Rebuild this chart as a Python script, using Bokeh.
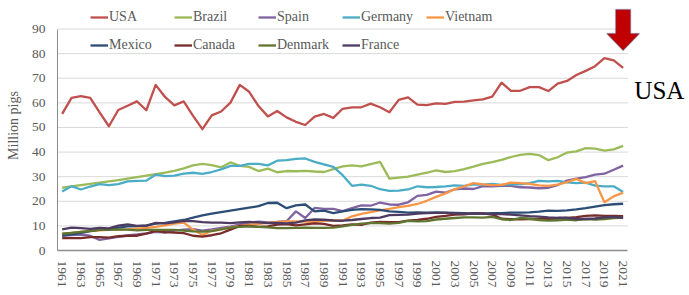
from bokeh.plotting import figure
from bokeh.models import Range1d, Legend, LegendItem, Label, PolyAnnotation, FixedTicker
from bokeh.embed import file_html
from bokeh.resources import INLINE

years = list(range(1961, 2022))

usa = [55.5, 62.0, 62.7, 62.0, 56.1, 50.5, 57.1, 58.8, 60.6, 57.0,
       67.3, 62.4, 59.0, 60.6, 54.7, 49.3, 54.9, 56.5, 60.1, 67.3,
       64.5, 58.7, 54.5, 56.7, 54.1, 52.3, 51.0, 54.4, 55.5, 53.9,
       57.6, 58.2, 58.2, 59.7, 58.2, 56.2, 61.2, 62.2, 59.3, 59.1,
       59.8, 59.6, 60.4, 60.5, 61.0, 61.4, 62.5, 68.2, 64.9, 64.9,
       66.4, 66.4, 64.8, 67.8, 68.9, 71.3, 73.0, 74.9, 78.2, 77.3, 74.2]
brazil = [25.5, 26.1, 26.6, 27.1, 27.6, 28.1, 28.6, 29.2, 29.8, 30.4,
          31.0, 31.6, 32.4, 33.4, 34.6, 35.2, 34.7, 33.8, 35.8, 34.4,
          34.0, 32.3, 33.3, 31.8, 32.3, 32.2, 32.4, 32.1, 31.9, 33.1,
          34.2, 34.6, 34.2, 35.1, 36.0, 29.2, 29.6, 30.0, 30.8, 31.6,
          32.6, 31.9, 32.3, 33.1, 34.1, 35.2, 35.9, 36.8, 38.0, 38.9,
          39.3, 38.8, 36.7, 37.9, 39.8, 40.3, 41.6, 41.4, 40.6, 41.1, 42.5]
spain = [6.0, 6.3, 6.5, 6.0, 4.3, 4.9, 5.5, 6.1, 6.5, 7.0,
         7.6, 7.3, 8.1, 8.5, 8.7, 8.1, 8.6, 9.2, 9.7, 10.6,
         11.3, 11.7, 11.4, 11.6, 11.9, 15.9, 13.2, 17.3, 16.9, 16.9,
         16.0, 17.2, 18.3, 18.2, 19.5, 18.7, 18.6, 19.6, 22.2, 22.6,
         23.9, 23.5, 24.9, 25.2, 25.0, 26.2, 26.1, 26.3, 26.3, 25.7,
         25.6, 25.3, 25.5, 26.6, 28.4, 29.2, 29.8, 30.8, 31.2, 32.8, 34.5]
germany = [24.0, 26.1, 24.8, 26.0, 27.0, 26.6, 27.0, 28.1, 28.3, 28.4,
           30.8, 30.2, 30.4, 31.2, 31.6, 31.1, 31.9, 33.0, 34.4, 34.4,
           35.2, 35.2, 34.6, 36.5, 36.7, 37.2, 37.4, 36.0, 35.0, 34.0,
           30.6, 26.3, 26.8, 26.3, 24.9, 24.2, 24.3, 24.8, 26.1, 25.7,
           25.8, 26.1, 26.5, 26.3, 26.9, 26.8, 27.1, 26.7, 26.9, 26.9,
           27.4, 28.3, 28.1, 28.3, 27.7, 27.4, 27.6, 26.4, 26.1, 26.1, 23.8]
vietnam = [6.9, 7.2, 7.6, 7.9, 8.2, 8.4, 8.5, 8.6, 8.9, 9.2,
           9.6, 10.2, 10.9, 11.3, 8.5, 6.3, 8.0, 8.6, 9.3, 10.0,
           10.5, 10.8, 11.2, 11.6, 11.8, 11.8, 11.7, 11.6, 12.0, 12.3,
           12.1, 13.9, 14.9, 15.6, 16.3, 16.9, 17.6, 18.1, 18.9, 20.2,
           21.8, 23.2, 24.9, 26.1, 27.4, 26.9, 26.6, 26.7, 27.6, 27.4,
           27.1, 26.5, 26.3, 26.8, 27.8, 29.1, 27.4, 28.2, 19.6, 22.0, 23.5]
mexico = [6.2, 6.6, 7.2, 7.9, 8.5, 8.8, 9.3, 9.8, 9.9, 10.2,
          10.9, 11.2, 11.8, 12.4, 13.4, 14.3, 15.0, 15.6, 16.2, 16.8,
          17.4, 18.0, 19.3, 19.4, 17.2, 18.3, 18.7, 15.9, 16.2, 15.2,
          15.9, 16.5, 16.8, 16.7, 16.5, 15.9, 15.7, 15.4, 15.5, 15.4,
          15.5, 15.4, 15.3, 15.2, 15.0, 15.0, 15.2, 15.2, 15.4, 15.4,
          15.5, 15.8, 16.2, 16.1, 16.3, 16.7, 17.2, 17.8, 18.4, 18.8, 19.0]
canada = [5.0, 5.0, 5.0, 5.4, 5.4, 5.2, 5.8, 6.0, 6.0, 6.9,
          8.0, 7.5, 7.3, 7.1, 6.0, 5.6, 6.2, 7.0, 8.5, 10.0,
          10.0, 9.6, 9.8, 10.5, 10.7, 10.2, 10.6, 11.0, 10.8, 10.0,
          10.2, 10.6, 10.4, 11.3, 11.6, 11.5, 11.5, 12.1, 12.4, 12.9,
          13.7, 14.1, 14.6, 14.7, 15.1, 15.1, 14.6, 12.9, 12.7, 12.7,
          12.8, 12.8, 12.9, 13.0, 13.3, 13.6, 14.1, 14.3, 14.1, 14.1, 14.0]
denmark = [6.8, 7.2, 7.6, 8.0, 8.4, 8.4, 8.6, 8.5, 8.2, 8.4,
           8.4, 8.4, 8.4, 8.1, 7.8, 7.7, 7.9, 8.6, 9.3, 9.6,
           9.8, 9.6, 9.4, 9.1, 9.1, 9.2, 9.3, 9.2, 9.2, 9.3,
           9.8, 10.4, 10.9, 11.1, 11.1, 10.9, 11.2, 12.0, 11.8, 11.9,
           12.6, 12.9, 13.2, 13.5, 13.5, 13.4, 13.7, 12.7, 12.4, 13.2,
           12.9, 12.4, 12.1, 12.3, 12.6, 12.3, 12.8, 12.6, 12.8, 13.2, 13.4]
france = [8.6, 9.3, 9.1, 8.8, 9.2, 9.0, 10.1, 10.6, 10.0, 10.0,
          11.2, 11.0, 11.4, 12.0, 11.9, 11.5, 11.3, 11.3, 11.1, 11.4,
          11.6, 11.4, 11.1, 11.2, 11.0, 11.3, 12.2, 12.6, 12.5, 12.2,
          12.1, 12.4, 12.8, 13.2, 13.4, 14.4, 14.5, 14.6, 15.0, 15.2,
          15.3, 15.3, 15.1, 15.0, 15.1, 15.0, 14.8, 14.8, 14.6, 14.3,
          14.0, 13.8, 13.5, 13.3, 13.3, 12.8, 12.8, 13.0, 13.5, 13.7, 13.3]

names = ["USA", "Brazil", "Spain", "Germany", "Vietnam",
         "Mexico", "Canada", "Denmark", "France"]
series = [usa, brazil, spain, germany, vietnam, mexico, canada, denmark, france]
colors = ["#C0504D", "#9BBB59", "#8064A2", "#4BACC6", "#F79646",
          "#2C4D75", "#772C2A", "#5F7530", "#4D3B62"]
y_ticks = list(range(0, 100, 10))
x_ticks = list(range(1961, 2022, 2))

FONT = "Liberation Serif"
GRAY = "#595959"

X0, X1 = years[0] - 0.5, years[-1] + 0.5   # category-style axis extent
Y0, Y1 = y_ticks[0], y_ticks[-1]

# Frame reaches the top/right canvas edges so the legend, arrow and
# callout label (outside the plotted area) are not clipped.
p = figure(width=689, height=295, output_backend="svg", toolbar_location=None,
           x_range=Range1d(X0, 2028.1), y_range=Range1d(Y0, 101.6),
           min_border_left=57, min_border_right=0, min_border_top=0,
           min_border_bottom=45)
p.outline_line_color = None
p.background_fill_color = "white"
p.border_fill_color = "white"

# horizontal gridlines limited to the plotting area
gy = y_ticks[1:]
p.segment(x0=[X0] * len(gy), y0=gy, x1=[X1] * len(gy), y1=gy,
          line_color="#D9D9D9", line_width=1)

renderers = []
for name, vals, col in zip(names, series, colors):
    r = p.line(years, vals, line_color=col, line_width=2.3, line_join="round")
    renderers.append(r)

p.xgrid.visible = False
p.ygrid.visible = False

p.yaxis.ticker = FixedTicker(ticks=y_ticks)
p.xaxis.ticker = FixedTicker(ticks=x_ticks)
p.yaxis.bounds = (Y0, Y1)
p.xaxis.bounds = (X0, X1)
p.xaxis.major_label_orientation = "vertical"

for ax in (p.xaxis[0], p.yaxis[0]):
    ax.major_tick_line_color = None
    ax.minor_tick_line_color = None
    ax.major_tick_out = 0
    ax.major_tick_in = 0
    ax.major_label_text_font = FONT
    ax.major_label_text_font_size = "13.5px"
    ax.major_label_text_color = GRAY
    ax.axis_line_color = "#8C8C8C"

p.xaxis.axis_line_width = 1.5
p.xaxis.major_label_standoff = 10
p.yaxis.major_label_standoff = 12
p.yaxis.axis_label = "Million pigs"
p.yaxis.axis_label_text_font = FONT
p.yaxis.axis_label_text_font_size = "14px"
p.yaxis.axis_label_text_font_style = "normal"
p.yaxis.axis_label_text_color = GRAY
p.yaxis.axis_label_standoff = 8


def make_legend(idx, loc):
    items = [LegendItem(label=names[i], renderers=[renderers[i]]) for i in idx]
    return Legend(items=items, orientation="horizontal", location=loc,
                  background_fill_alpha=0, border_line_color=None,
                  label_text_font=FONT, label_text_font_size="14px",
                  label_text_color=GRAY, glyph_width=18, glyph_height=16,
                  label_height=16, label_width=63, label_standoff=1,
                  spacing=2, padding=0, margin=0)


p.add_layout(make_legend([0, 1, 2, 3, 4], (33, 225)), "center")
p.add_layout(make_legend([5, 6, 7, 8], (33, 197)), "center")

# callout arrow and label pointing to the USA series' last year
xe = years[-1]
arrow = PolyAnnotation(
    xs=[xe - 0.8, xe + 0.8, xe + 0.8, xe + 1.76, xe, xe - 1.76, xe - 0.8],
    ys=[97.9, 97.9, 88.2, 88.2, 81.3, 88.2, 88.2],
    fill_color="#C00000", fill_alpha=1.0,
    line_color="#2F5597", line_width=1.5)
p.add_layout(arrow)

p.add_layout(Label(x=years[-1] + 1.2, y=65.0, text="USA",
                   text_font=FONT, text_font_size="25px",
                   text_color="black", text_baseline="alphabetic"))

open("out.html", "w").write(file_html(p, INLINE))
